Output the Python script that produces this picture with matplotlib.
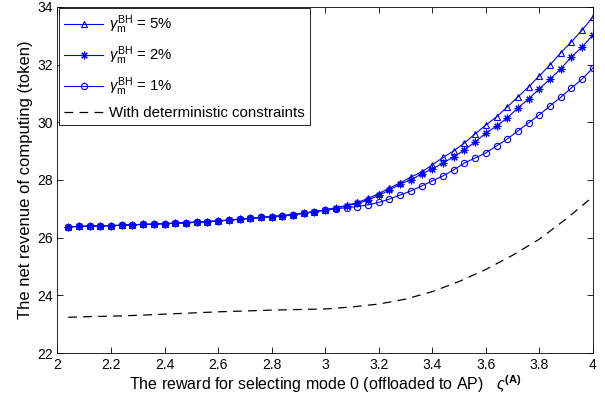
import numpy as np
import matplotlib
matplotlib.use('Agg')
from matplotlib import pyplot as plt

plt.rcParams['font.family'] = ['Liberation Sans', 'DejaVu Sans']
plt.rcParams['mathtext.fontset'] = 'custom'
plt.rcParams['mathtext.rm'] = 'Liberation Sans'
plt.rcParams['mathtext.it'] = 'Liberation Sans:italic'
plt.rcParams['mathtext.bf'] = 'Liberation Sans:bold'

# x軸：報酬（0.04刻み）
x = np.round(np.arange(2.04, 4.0001, 0.04), 2)

# 3本の曲線で共通の部分（2.04〜3.00）
common = [26.38, 26.39, 26.40, 26.41, 26.42, 26.43, 26.45, 26.46, 26.47, 26.49,
          26.50, 26.52, 26.54, 26.56, 26.58, 26.61, 26.64, 26.67, 26.70, 26.73,
          26.76, 26.80, 26.85, 26.90, 26.96]

# 3.04〜4.00
tail_5 = [27.04, 27.12, 27.22, 27.36, 27.53, 27.72, 27.90, 28.10, 28.28, 28.52,
          28.78, 29.01, 29.28, 29.60, 29.90, 30.19, 30.53, 30.88, 31.23, 31.61,
          31.99, 32.41, 32.79, 33.20, 33.65]
tail_2 = [27.03, 27.10, 27.19, 27.30, 27.47, 27.65, 27.86, 28.00, 28.21, 28.38,
          28.59, 28.80, 29.04, 29.32, 29.62, 29.87, 30.15, 30.50, 30.81, 31.16,
          31.50, 31.85, 32.27, 32.61, 33.03]
tail_1 = [27.00, 27.04, 27.08, 27.14, 27.22, 27.34, 27.48, 27.62, 27.79, 27.97,
          28.14, 28.35, 28.59, 28.76, 28.94, 29.18, 29.42, 29.70, 29.98, 30.26,
          30.57, 30.87, 31.19, 31.50, 31.88]

y_5 = common + tail_5
y_2 = common + tail_2
y_1 = common + tail_1

# 確定的制約の場合（破線）
x_det = [2.04, 2.1, 2.2, 2.3, 2.4, 2.5, 2.6, 2.7, 2.8, 2.9, 3.0,
         3.1, 3.2, 3.3, 3.4, 3.5, 3.6, 3.7, 3.8, 3.9, 4.0]
y_det = [23.24, 23.26, 23.28, 23.31, 23.35, 23.39, 23.43, 23.46, 23.49, 23.51, 23.53,
         23.60, 23.70, 23.87, 24.13, 24.48, 24.90, 25.39, 25.95, 26.65, 27.42]

labels = [r'$\gamma_\mathrm{m}^\mathrm{BH}$ = 5%',
          r'$\gamma_\mathrm{m}^\mathrm{BH}$ = 2%',
          r'$\gamma_\mathrm{m}^\mathrm{BH}$ = 1%',
          'With deterministic constraints']

fig = plt.figure(figsize=(6.05, 4.04), dpi=100)
ax = fig.add_axes([0.095, 0.126, 0.885, 0.857])

blue = '#0000ff'
ax.plot(x, y_5, color=blue, lw=0.8, marker='^', ms=5, mfc='none', mew=0.8, label=labels[0])
ax.plot(x, y_2, color=blue, lw=0.8, marker=(8, 2, 0), ms=5.5, mew=0.8, label=labels[1])
ax.plot(x, y_1, color=blue, lw=0.8, marker='o', ms=4.5, mfc='none', mew=0.8, label=labels[2])
ax.plot(x_det, y_det, color='black', lw=0.9, ls=(0, (7, 5)), label=labels[3])

ax.set_xlim(2, 4)
ax.set_ylim(22, 34)
ax.set_xticks(np.arange(2, 4.01, 0.2))
ax.set_xticklabels(['2', '2.2', '2.4', '2.6', '2.8', '3', '3.2', '3.4', '3.6', '3.8', '4'])
ax.set_yticks(np.arange(22, 34.1, 2))
ax.tick_params(direction='in', top=True, right=True, length=4, width=0.6, labelsize=10)
for s in ax.spines.values():
    s.set_linewidth(0.6)

ax.set_xlabel(r'The reward for selecting mode 0 (offloaded to AP)   $\varsigma^{\mathbf{(A)}}$',
              fontsize=11.5, labelpad=1)
ax.set_ylabel('The net revenue of computing (token)', fontsize=12, labelpad=3)

leg = ax.legend(loc='upper left', fontsize=10.8, fancybox=False, edgecolor='black',
                framealpha=1, borderaxespad=0.1, handlelength=2.6, labelspacing=0.55,
                borderpad=0.35, handletextpad=0.4)
leg.get_frame().set_linewidth(0.6)

fig.savefig('out.png', dpi=100)
